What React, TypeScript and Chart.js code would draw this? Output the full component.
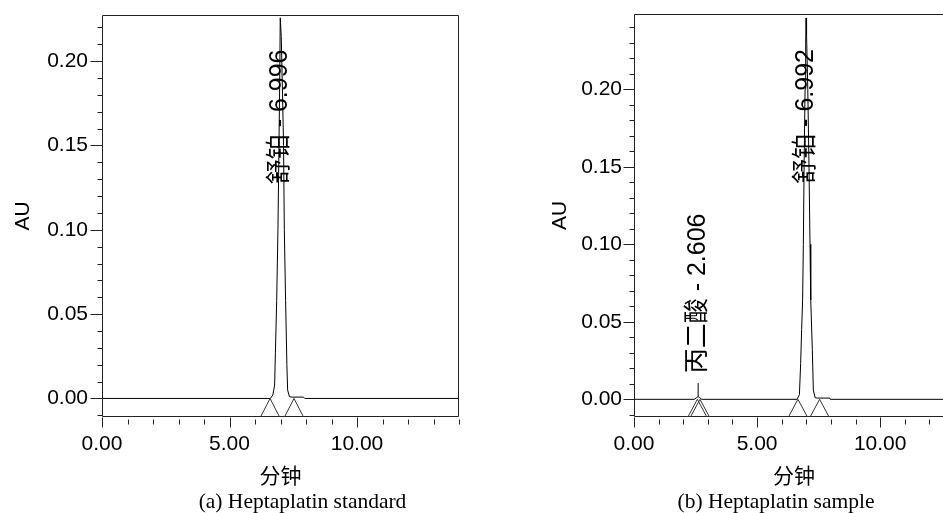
import React, { useEffect, useRef } from 'react';
import { Chart, registerables } from 'chart.js';

Chart.register(...registerables);

// ---------- Panel (a): Heptaplatin standard ----------
const timesA = [0, 6.6, 6.7, 6.77, 6.8, 6.85, 6.9, 6.94, 6.97, 6.99, 7.03, 7.08, 7.12, 7.15, 7.2, 7.25, 7.28, 7.35, 7.45, 7.9, 7.95, 14];
const auA = [0, 0, 0.002, 0.008, 0.027, 0.058, 0.1, 0.15, 0.19, 0.2257, 0.2146, 0.18, 0.15, 0.1, 0.058, 0.02, 0.005, 0.001, 0.0008, 0.0008, 0, 0];
const peakNamesA = ['舒铂'];
const peakTimesA = [6.996];
const labelStartA = [0.127];
const peakBoundsA = [6.59, 7.53];
const leaderTimesA: number[] = [];
const leaderAuA: number[] = [];

// ---------- Panel (b): Heptaplatin sample ----------
const timesB = [0, 2.45, 2.55, 2.606, 2.66, 2.75, 6.62, 6.72, 6.77, 6.81, 6.85, 6.88, 6.91, 6.95, 6.975, 6.99, 7.01, 7.06, 7.11, 7.15, 7.18, 7.245, 7.285, 7.36, 7.45, 7.95, 7.97, 13];
const auB = [0, 0, 0.0012, 0.0018, 0.0012, 0, 0, 0.003, 0.023, 0.045, 0.064, 0.1, 0.15, 0.2, 0.2297, 0.246, 0.235, 0.2, 0.15, 0.1, 0.064, 0.032, 0.006, 0.001, 0.0008, 0.0008, 0, 0];
const peakNamesB = ['丙二酸', '舒铂'];
const peakTimesB = [2.606, 6.992];
const labelStartB = [0.0168, 0.139];
const peakBoundsB = [2.574, 2.68, 6.66, 7.54];
const leaderTimesB = [2.606, 2.606];
const leaderAuB = [0.0018, 0.0105];

// ---------- Axes ----------
const xLabelValues = [0, 5, 10];
const yLabelValues = [0, 0.05, 0.1, 0.15, 0.2];
const xTitle = '分钟';
const yTitle = 'AU';
const captionA = '(a) Heptaplatin standard';
const captionB = '(b) Heptaplatin sample';

const LATIN = '"Liberation Sans", Arial, sans-serif';
const CJK = '"Noto Sans CJK SC", "Liberation Sans", sans-serif';

type PanelCfg = {
  times: number[];
  au: number[];
  names: string[];
  rts: number[];
  labelStart: number[];
  bounds: number[];
  leaderT: number[];
  leaderV: number[];
  xMax: number;
  yMin: number;
  yMax: number;
  yTickMin: number;
  yTickMax: number;
  yWidth: number;
  yTitlePad: number;
  yTickLen: number;
  yLabelPad: number;
  padTop: number;
  padRight: number;
};

const near = (a: number, b: number) => Math.abs(a - b) < 1e-7;

function buildChart(canvas: HTMLCanvasElement, c: PanelCfg) {
  const xTickVals: number[] = [];
  for (let i = 0; i <= c.xMax; i++) xTickVals.push(i);
  const yTickVals: number[] = [];
  for (let i = Math.round(c.yTickMin * 100); i <= Math.round(c.yTickMax * 100); i++) yTickVals.push(i / 100);

  const decor = {
    id: 'decor',
    afterDraw(chart: any) {
      const { ctx, chartArea: ca } = chart;
      const x = chart.scales.x;
      const y = chart.scales.y;
      ctx.save();
      ctx.strokeStyle = '#222';
      ctx.lineWidth = 1;
      const L = Math.round(ca.left) + 0.5;
      const T = Math.round(ca.top) + 0.5;
      const R = Math.round(ca.right) - 0.5;
      const B = Math.round(ca.bottom) - 0.5;
      ctx.beginPath();
      ctx.moveTo(L, T);
      ctx.lineTo(R, T);
      ctx.lineTo(R, B);
      ctx.lineTo(L, B);
      ctx.closePath();
      ctx.stroke();
      // x ticks
      ctx.beginPath();
      x.ticks.forEach((t: any) => {
        const px = Math.round(x.getPixelForValue(t.value)) + 0.5;
        const major = xLabelValues.some((v) => near(v, t.value));
        ctx.moveTo(px, B + (major ? 1 : 3));
        ctx.lineTo(px, B + (major ? 11 : 8));
      });
      // y ticks
      y.ticks.forEach((t: any) => {
        const py = Math.round(y.getPixelForValue(t.value)) + 0.5;
        const major = yLabelValues.some((v) => near(v, t.value));
        ctx.moveTo(L - (major ? c.yTickLen : 5), py);
        ctx.lineTo(L, py);
      });
      ctx.stroke();
      // peak start / end markers
      ctx.strokeStyle = '#333';
      ctx.beginPath();
      const y0 = y.getPixelForValue(0);
      c.bounds.forEach((b) => {
        const px = x.getPixelForValue(b);
        ctx.moveTo(px - 9.5, ca.bottom);
        ctx.lineTo(px, y0);
        ctx.lineTo(px + 9.5, ca.bottom);
      });
      ctx.stroke();
      // peak labels
      ctx.fillStyle = '#000';
      ctx.font = '25px "Liberation Sans", "Noto Sans CJK SC", sans-serif';
      ctx.textAlign = 'left';
      ctx.textBaseline = 'middle';
      c.names.forEach((n, i) => {
        const text = `${n} - ${c.rts[i].toFixed(3)}`;
        ctx.save();
        ctx.translate(x.getPixelForValue(c.rts[i]), y.getPixelForValue(c.labelStart[i]));
        ctx.rotate(-Math.PI / 2);
        ctx.fillText(text, 0, 0);
        ctx.restore();
      });
      ctx.restore();
    },
  };

  const datasets: any[] = [
    {
      data: c.times.map((t, i) => ({ x: t, y: c.au[i] })),
      borderColor: '#000',
      borderWidth: 1,
      pointRadius: 0,
      tension: 0,
      fill: false,
    },
  ];
  if (c.leaderT.length) {
    datasets.push({
      data: c.leaderT.map((t, i) => ({ x: t, y: c.leaderV[i] })),
      borderColor: '#000',
      borderWidth: 1,
      pointRadius: 0,
      fill: false,
    });
  }

  return new Chart(canvas, {
    type: 'line',
    data: { datasets },
    plugins: [decor],
    options: {
      animation: false,
      responsive: false,
      devicePixelRatio: 1,
      layout: { padding: { top: c.padTop, right: c.padRight, left: 0, bottom: 0 } },
      plugins: { legend: { display: false }, tooltip: { enabled: false }, title: { display: false } },
      scales: {
        x: {
          type: 'linear',
          min: 0,
          max: c.xMax,
          afterBuildTicks: (s: any) => {
            s.ticks = xTickVals.map((v) => ({ value: v }));
          },
          afterFit: (s: any) => {
            s.height = 73;
          },
          grid: { drawOnChartArea: false, drawTicks: true, tickLength: 10, tickColor: 'rgba(0,0,0,0)' },
          border: { display: false },
          ticks: {
            autoSkip: false,
            maxRotation: 0,
            padding: 5,
            color: '#000',
            font: { size: 21, family: LATIN },
            callback: (v: any) => (xLabelValues.some((m) => near(m, Number(v))) ? Number(v).toFixed(2) : ''),
          },
          title: { display: true, text: xTitle, color: '#000', font: { size: 21, family: CJK }, padding: { top: 0, bottom: 2 } },
        },
        y: {
          type: 'linear',
          min: c.yMin,
          max: c.yMax,
          afterBuildTicks: (s: any) => {
            s.ticks = yTickVals.map((v) => ({ value: v }));
          },
          afterFit: (s: any) => {
            s.width = c.yWidth;
          },
          grid: { drawOnChartArea: false, drawTicks: true, tickLength: c.yTickLen, tickColor: 'rgba(0,0,0,0)' },
          border: { display: false },
          ticks: {
            autoSkip: false,
            padding: c.yLabelPad,
            color: '#000',
            font: { size: 21, family: LATIN },
            callback: (v: any) => (yLabelValues.some((m) => near(m, Number(v))) ? Number(v).toFixed(2) : ''),
          },
          title: { display: true, text: yTitle, color: '#000', font: { size: 21, family: LATIN }, padding: { top: c.yTitlePad, bottom: 0 } },
        },
      },
    } as any,
  });
}

const cfgA: PanelCfg = {
  times: timesA, au: auA, names: peakNamesA, rts: peakTimesA, labelStart: labelStartA,
  bounds: peakBoundsA, leaderT: leaderTimesA, leaderV: leaderAuA,
  xMax: 14, yMin: -0.011, yMax: 0.2276, yTickMin: -0.01, yTickMax: 0.22,
  yWidth: 102, yTitlePad: 11, yTickLen: 12, yLabelPad: 2, padTop: 13, padRight: 21,
};

const cfgB: PanelCfg = {
  times: timesB, au: auB, names: peakNamesB, rts: peakTimesB, labelStart: labelStartB,
  bounds: peakBoundsB, leaderT: leaderTimesB, leaderV: leaderAuB,
  xMax: 13, yMin: -0.0114, yMax: 0.2488, yTickMin: -0.01, yTickMax: 0.24,
  yWidth: 94, yTitlePad: 7.4, yTickLen: 11, yLabelPad: 1, padTop: 13.3, padRight: 16,
};

export default function App() {
  const refA = useRef<HTMLCanvasElement>(null);
  const refB = useRef<HTMLCanvasElement>(null);
  useEffect(() => {
    const a = buildChart(refA.current!, cfgA);
    const b = buildChart(refB.current!, cfgB);
    return () => {
      a.destroy();
      b.destroy();
    };
  }, []);
  const cap: React.CSSProperties = {
    position: 'absolute',
    top: 491,
    width: 400,
    textAlign: 'center',
    fontFamily: '"Liberation Serif", "Times New Roman", serif',
    fontSize: '21.5px',
    lineHeight: '21.5px',
    color: '#000',
    whiteSpace: 'nowrap',
  };
  return (
    <div style={{ position: 'absolute', left: 0, top: 0, width: 943, height: 513, overflow: 'hidden', background: '#fff' }}>
      <canvas ref={refA} width={480} height={490} style={{ position: 'absolute', left: 0, top: 0, width: 480, height: 490 }} />
      <canvas ref={refB} width={430} height={490} style={{ position: 'absolute', left: 540, top: 0, width: 430, height: 490 }} />
      <div style={{ ...cap, left: 302.5 - 200 }}>{captionA}</div>
      <div style={{ ...cap, left: 776 - 200 }}>{captionB}</div>
    </div>
  );
}
